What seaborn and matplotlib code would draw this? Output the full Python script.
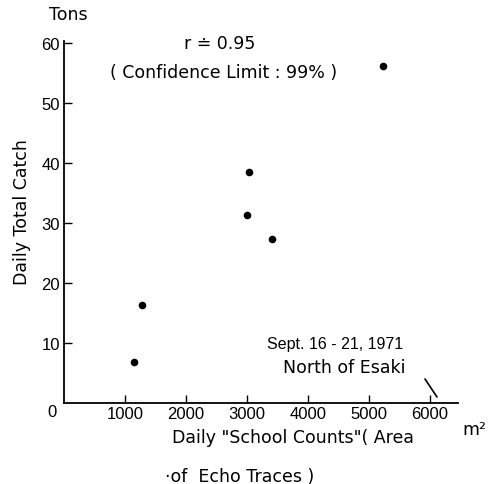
import matplotlib
matplotlib.use("Agg")
import matplotlib.pyplot as plt
import seaborn as sns
import pandas as pd

school_counts = [1150, 1280, 3000, 3040, 3410, 5230]
total_catch = [6.8, 16.4, 31.3, 38.5, 27.3, 56.2]
xticks = [1000, 2000, 3000, 4000, 5000, 6000]
yticks = [10, 20, 30, 40, 50, 60]

sns.set_style("ticks")
plt.rcParams['font.family'] = ['Liberation Sans', 'DejaVu Sans']
plt.rcParams['text.color'] = 'black'

df = pd.DataFrame({"x": school_counts, "y": total_catch})

fig = plt.figure(figsize=(4.94, 4.85), dpi=100)
W, H = 494, 485
ax = fig.add_axes([64 / W, (H - 404) / H, (458 - 64) / W, (404 - 42) / H])
sns.scatterplot(data=df, x="x", y="y", ax=ax, color="black", s=30,
                edgecolor="black", linewidth=0, legend=False)

ax.set_xlim(0, 6460)
ax.set_ylim(0, 60.3)
ax.set_xticks(xticks)
ax.set_yticks(yticks)
ax.set_xticklabels([str(t) for t in xticks])
ax.set_yticklabels([str(t) for t in yticks])
ax.tick_params(direction="in", length=6, width=1.0, labelsize=12, colors="black",
               labelcolor="black")
ax.tick_params(axis="x", pad=2)
ax.tick_params(axis="y", pad=3)
for s in ["top", "right"]:
    ax.spines[s].set_visible(False)
for s in ["left", "bottom"]:
    ax.spines[s].set_linewidth(1.3)
    ax.spines[s].set_color("black")
ax.set_xlabel("")
ax.set_ylabel("")
ax.set_facecolor("white")
fig.patch.set_facecolor("white")

fs = 12.5
lab = dict(fontsize=fs, ha="center", va="center", family=["DejaVu Sans"], color="black")
fig.text(52 / W, 1 - 413 / H, "0", fontsize=12, ha="center", va="center", color="black")
fig.text(68 / W, 1 - 15 / H, "Tons", **lab)
fig.text(22 / W, 1 - 212 / H, "Daily Total Catch", rotation=90, **lab)
fig.text(220 / W, 1 - 44 / H, "r \u2250 0.95", **lab)
fig.text(224 / W, 1 - 73 / H, "( Confidence Limit : 99% )", **lab)
fig.text(335 / W, 1 - 345 / H, "Sept. 16 - 21, 1971", fontsize=11.5,
         ha="center", va="center", color="black")
fig.text(344 / W, 1 - 368 / H, "North of Esaki", **lab)
fig.text(293 / W, 1 - 438 / H, "Daily \"School Counts\"( Area", **lab)
fig.text(240 / W, 1 - 477 / H, "\u00b7of  Echo Traces )", **lab)
fig.text(474 / W, 1 - 430 / H, "m\u00b2", **lab)
fig.add_artist(plt.Line2D([425 / W, 437 / W], [1 - 380 / H, 1 - 398 / H],
                          color="black", linewidth=1.2))

fig.savefig("out.png", dpi=100, facecolor="white")
